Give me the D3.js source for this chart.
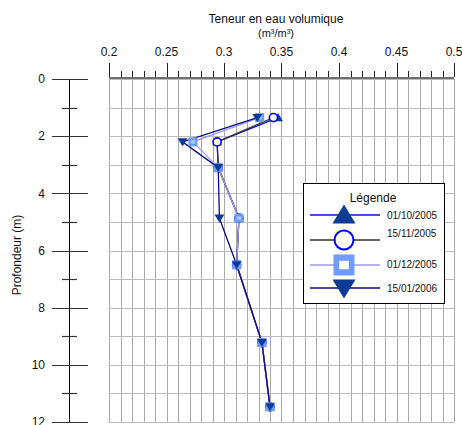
<!DOCTYPE html>
<html><head><meta charset="utf-8">
<script src="https://cdn.jsdelivr.net/npm/d3@7"></script>
<style>body{margin:0;background:#fff;} text{font-family:"Liberation Sans",Arial,sans-serif;}</style>
</head><body>
<svg id="chart" width="462" height="425"></svg>
<script>
// ---- data ----
const depths = [1.35, 2.2, 3.1, 4.87, 6.5, 9.22, 11.47];
const s_20051001 = [0.347, 0.294, 0.295, 0.313, 0.311, 0.333, 0.340];
const s_20051115 = [0.343, 0.294, 0.295, 0.313, 0.311, 0.333, 0.340];
const s_20051201 = [0.331, 0.273, 0.295, 0.313, 0.311, 0.333, 0.340];
const s_20060115 = [0.329, 0.264, 0.295, 0.296, 0.311, 0.333, 0.340];
const seriesNames = ["01/10/2005", "15/11/2005", "01/12/2005", "15/01/2006"];
const xTickValues = [0.2, 0.25, 0.3, 0.35, 0.4, 0.45, 0.5];
const xTickLabels = ["0.2", "0.25", "0.3", "0.35", "0.4", "0.45", "0.5"];
const yTickValues = [0, 2, 4, 6, 8, 10, 12];
const yMinorValues = [1, 3, 5, 7, 9, 11];
const xTitle1 = "Teneur en eau volumique";
const xTitle2 = "(m³/m³)";
const yTitle = "Profondeur (m)";
const legendTitle = "Légende";

const svg = d3.select("#chart");
const x = d3.scaleLinear().domain([0.2, 0.5]).range([109, 454]);
const y = d3.scaleLinear().domain([0, 12]).range([79, 422]);

// grid
const gridX = d3.range(0.2, 0.5001, 0.01);
const gridY = d3.range(0, 12.001, 1);
const grid = svg.append("g");
grid.selectAll(".gx").data(gridX).join("line")
  .attr("x1", d => Math.round(x(d)) + 0.5).attr("x2", d => Math.round(x(d)) + 0.5)
  .attr("y1", y(0)).attr("y2", y(12)).attr("stroke", "#aaaaaa");
grid.selectAll(".gy").data(gridY).join("line")
  .attr("x1", x(0.2)).attr("x2", x(0.5))
  .attr("y1", d => Math.round(y(d)) + 0.5).attr("y2", d => Math.round(y(d)) + 0.5)
  .attr("stroke", "#bbbbbb");

// top axis
const gTop = svg.append("g").attr("transform", `translate(0,${y(0) - 1})`);
gTop.append("line").attr("x1", x(0.2)).attr("x2", x(0.5)).attr("y1", 0).attr("y2", 0)
  .attr("stroke", "#707070").attr("stroke-width", 2);
const minorX = d3.range(0.2, 0.5001, 0.01);
gTop.selectAll(".mt").data(minorX).join("line")
  .attr("x1", d => Math.round(x(d)) + 0.5).attr("x2", d => Math.round(x(d)) + 0.5)
  .attr("y1", -1).attr("y2", -7).attr("stroke", "#222");
gTop.selectAll(".Mt").data(xTickValues).join("line")
  .attr("x1", d => Math.round(x(d)) + 0.5).attr("x2", d => Math.round(x(d)) + 0.5)
  .attr("y1", -1).attr("y2", -15).attr("stroke", "#222");
gTop.selectAll(".tl").data(xTickValues).join("text")
  .attr("x", d => x(d)).attr("y", -22).attr("text-anchor", "middle")
  .attr("font-size", 12).attr("fill", "#111")
  .text((d, i) => xTickLabels[i]);

svg.append("text").attr("x", 276).attr("y", 23).attr("text-anchor", "middle")
  .attr("font-size", 12).attr("fill", "#111").text(xTitle1);
svg.append("text").attr("x", 276).attr("y", 37).attr("text-anchor", "middle")
  .attr("font-size", 11).attr("fill", "#111").text(xTitle2);

// left axis (detached)
const ax = 69.5;
svg.append("line").attr("x1", ax).attr("x2", ax).attr("y1", y(0)).attr("y2", y(12)).attr("stroke", "#000");
svg.selectAll(".ymaj").data(yTickValues).join("line")
  .attr("x1", 52).attr("x2", 88)
  .attr("y1", d => Math.round(y(d)) + 0.5).attr("y2", d => Math.round(y(d)) + 0.5)
  .attr("stroke", "#333").attr("stroke-width", 1.2);
svg.selectAll(".ymin").data(yMinorValues).join("line")
  .attr("x1", 62).attr("x2", 77)
  .attr("y1", d => Math.round(y(d)) + 0.5).attr("y2", d => Math.round(y(d)) + 0.5)
  .attr("stroke", "#333").attr("stroke-width", 1.2);
svg.selectAll(".ylab").data(yTickValues).join("text")
  .attr("x", 45).attr("y", d => y(d)).attr("dy", "0.35em").attr("text-anchor", "end")
  .attr("font-size", 12).attr("fill", "#111").text(d => d);
svg.append("text").attr("transform", `translate(21,255) rotate(-90)`).attr("text-anchor", "middle")
  .attr("font-size", 12).attr("fill", "#111").text(yTitle);

// series
const styles = [
  {vals: s_20051001, line: "#1010c8", sym: "up"},
  {vals: s_20051115, line: "#333333", sym: "circle"},
  {vals: s_20051201, line: "#9a9aee", sym: "square"},
  {vals: s_20060115, line: "#0a0a80", sym: "down"}
];
function drawSym(g, type, cx, cy, s) {
  if (type === "up") {
    g.append("path").attr("d", `M${cx},${cy - s*0.5}L${cx + s*0.55},${cy + s*0.4}L${cx - s*0.55},${cy + s*0.4}Z`).attr("fill", "#0b3b94");
  } else if (type === "down") {
    g.append("path").attr("d", `M${cx},${cy + s*0.5}L${cx + s*0.55},${cy - s*0.4}L${cx - s*0.55},${cy - s*0.4}Z`).attr("fill", "#0b3b94");
  } else if (type === "circle") {
    g.append("circle").attr("cx", cx).attr("cy", cy).attr("r", s*0.45).attr("fill", "#fff")
      .attr("stroke", "#0000ff").attr("stroke-width", s > 12 ? 2 : 1.6);
  } else {
    g.append("rect").attr("x", cx - s/2).attr("y", cy - s/2).attr("width", s).attr("height", s).attr("fill", "#6e9cf7");
    g.append("rect").attr("x", cx - s*0.23).attr("y", cy - s*0.2).attr("width", s*0.46).attr("height", s*0.4).attr("fill", s > 12 ? "#fff" : "#a9c4fb");
  }
}
const line = d3.line().x(d => x(d[0])).y(d => y(d[1]));
styles.forEach(st => {
  const pts = st.vals.map((v, i) => [v, depths[i]]);
  svg.append("path").attr("d", line(pts)).attr("fill", "none").attr("stroke", st.line).attr("stroke-width", 1.3);
});
styles.forEach(st => {
  const g = svg.append("g");
  st.vals.forEach((v, i) => drawSym(g, st.sym, x(v), y(depths[i]), 9));
});

// legend
const lg = svg.append("g");
lg.append("rect").attr("x", 303.5).attr("y", 183.5).attr("width", 141).attr("height", 120)
  .attr("fill", "#fff").attr("stroke", "#000");
lg.append("text").attr("x", 373).attr("y", 202).attr("text-anchor", "middle").attr("font-size", 12)
  .attr("fill", "#111").text(legendTitle);
const rowsY = [215, 240, 265, 288];
const labY = [219, 237, 268, 292];
styles.forEach((st, i) => {
  lg.append("line").attr("x1", 310).attr("x2", 380).attr("y1", rowsY[i]).attr("y2", rowsY[i])
    .attr("stroke", st.line).attr("stroke-width", 1.3);
  drawSym(lg, st.sym, 344, rowsY[i], 21);
  lg.append("text").attr("x", 387).attr("y", labY[i]).attr("font-size", 10).attr("fill", "#111").text(seriesNames[i]);
});
</script>
</body></html>
